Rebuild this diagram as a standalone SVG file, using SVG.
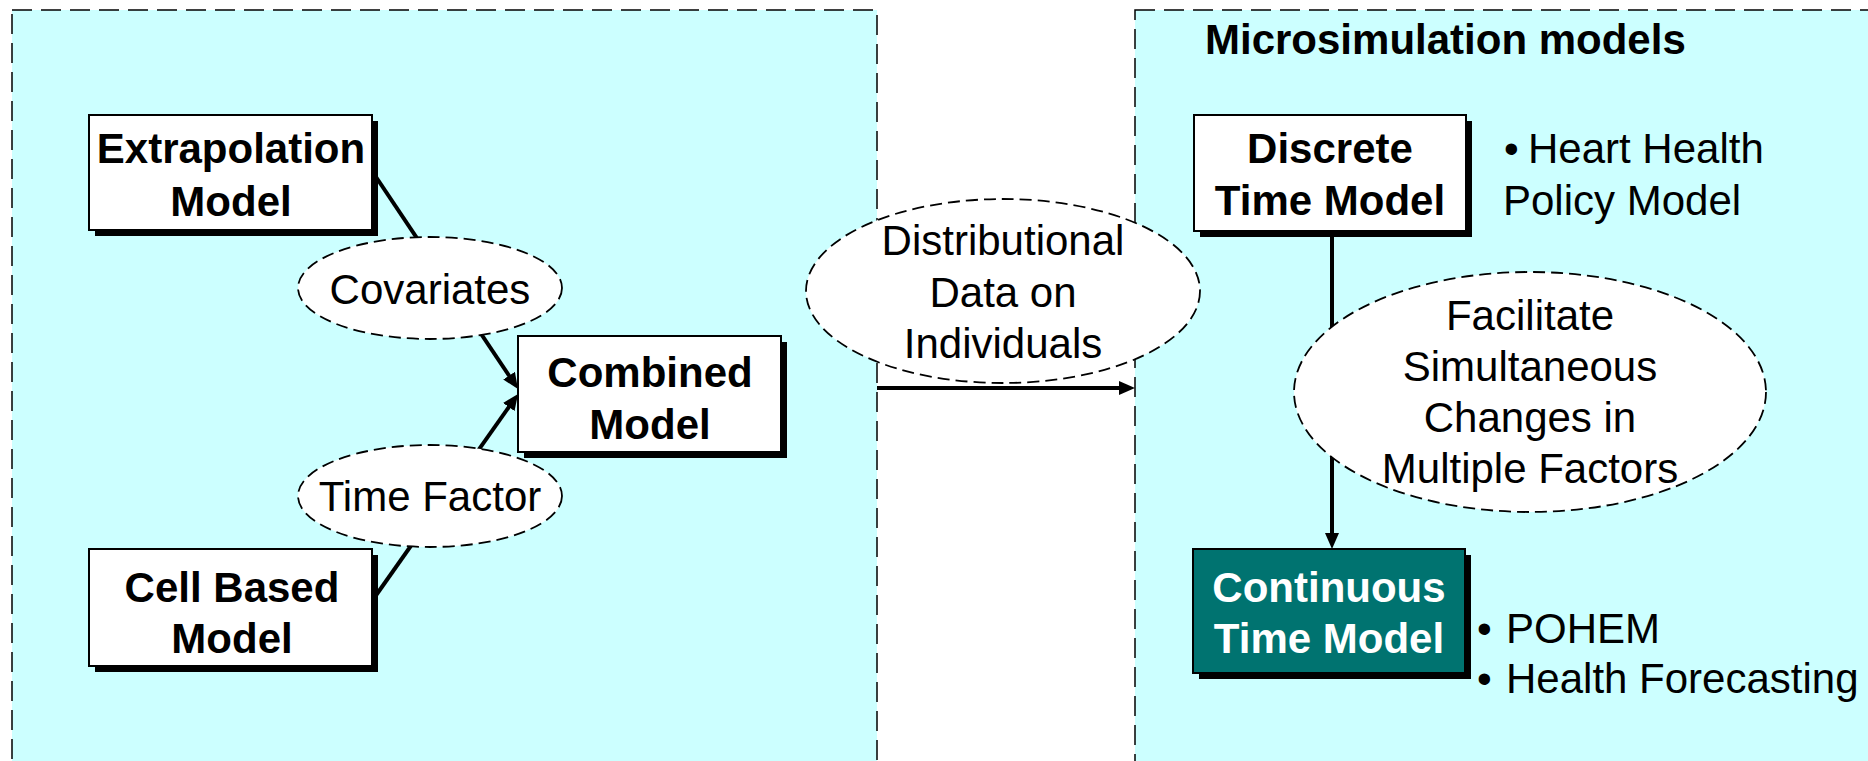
<svg xmlns="http://www.w3.org/2000/svg" width="1868" height="761" viewBox="0 0 1868 761">
  <style>
    text { font-family: "Liberation Sans", Arial, sans-serif; font-size: 42px; fill: #000; }
    .bold { font-weight: bold; }
    .mid { text-anchor: middle; }
    .panel { fill: #CCFFFF; stroke: #000; stroke-width: 1.5; stroke-dasharray: 20 9; }
    .box { fill: #fff; stroke: #000; stroke-width: 2; }
    .box-dark { fill: #007370; stroke: #000; stroke-width: 2; }
    .shadow { fill: #000; }
    .bubble { fill: #fff; stroke: #000; stroke-width: 1.8; stroke-dasharray: 12 6; }
    .link { fill: none; stroke: #000; stroke-width: 4; }
    .light { fill: #fff; }
  </style>
  <defs>
    <marker id="head" markerUnits="userSpaceOnUse" markerWidth="16" markerHeight="14" refX="4" refY="7" orient="auto">
      <path d="M0,0 L16,7 L0,14 z" fill="#000"/>
    </marker>
  </defs>

  <rect x="0" y="0" width="1868" height="761" fill="#fff"/>

  <!-- panels -->
  <g id="aggregate-panel">
    <rect class="panel" x="12" y="10" width="865" height="800"/>
  </g>
  <g id="micro-panel">
    <rect class="panel" x="1135" y="10" width="800" height="800"/>
    <text class="bold" x="1205" y="54">Microsimulation models</text>
  </g>

  <!-- connectors -->
  <g id="connectors">
    <line class="link" x1="372" y1="171" x2="511.3" y2="379" marker-end="url(#head)"/>
    <line class="link" x1="372" y1="601" x2="511.1" y2="403.8" marker-end="url(#head)"/>
    <line class="link" x1="877" y1="388" x2="1123" y2="388" marker-end="url(#head)"/>
    <line class="link" x1="1332" y1="231" x2="1332" y2="537" marker-end="url(#head)"/>
  </g>

  <!-- model boxes -->
  <g id="extrapolation">
    <rect class="shadow" x="95" y="121" width="283" height="115"/>
    <rect class="box" x="89" y="115" width="283" height="115"/>
    <text class="bold mid" x="231" y="163">Extrapolation</text>
    <text class="bold mid" x="231" y="216">Model</text>
  </g>
  <g id="combined">
    <rect class="shadow" x="524" y="342" width="263" height="116"/>
    <rect class="box" x="518" y="336" width="263" height="116"/>
    <text class="bold mid" x="650" y="387">Combined</text>
    <text class="bold mid" x="650" y="439">Model</text>
  </g>
  <g id="cell-based">
    <rect class="shadow" x="95" y="555" width="283" height="117"/>
    <rect class="box" x="89" y="549" width="283" height="117"/>
    <text class="bold mid" x="232" y="602">Cell Based</text>
    <text class="bold mid" x="232" y="653">Model</text>
  </g>
  <g id="discrete">
    <rect class="shadow" x="1200" y="121" width="272" height="116"/>
    <rect class="box" x="1194" y="115" width="272" height="116"/>
    <text class="bold mid" x="1330" y="163">Discrete</text>
    <text class="bold mid" x="1330" y="215">Time Model</text>
    <text x="1504" y="163">•</text>
    <text x="1528" y="163">Heart Health</text>
    <text x="1503" y="215">Policy Model</text>
  </g>
  <g id="continuous">
    <rect class="shadow" x="1199" y="555" width="272" height="124"/>
    <rect class="box-dark" x="1193" y="549" width="272" height="124"/>
    <text class="bold mid light" x="1329" y="602">Continuous</text>
    <text class="bold mid light" x="1329" y="653">Time Model</text>
    <text x="1477" y="643">•</text>
    <text x="1506" y="643">POHEM</text>
    <text x="1477" y="693">•</text>
    <text x="1506" y="693">Health Forecasting</text>
  </g>

  <!-- labels on the links -->
  <g id="covariates">
    <ellipse class="bubble" cx="430" cy="288" rx="132" ry="51"/>
    <text class="mid" x="430" y="304">Covariates</text>
  </g>
  <g id="time-factor">
    <ellipse class="bubble" cx="430" cy="496" rx="132" ry="51"/>
    <text class="mid" x="430" y="511">Time Factor</text>
  </g>
  <g id="distributional-data">
    <ellipse class="bubble" cx="1003" cy="291" rx="197" ry="92"/>
    <text class="mid" x="1003" y="255">Distributional</text>
    <text class="mid" x="1003" y="307">Data on</text>
    <text class="mid" x="1003" y="358">Individuals</text>
  </g>
  <g id="simultaneous-changes">
    <ellipse class="bubble" cx="1530" cy="392" rx="236" ry="120"/>
    <text class="mid" x="1530" y="330">Facilitate</text>
    <text class="mid" x="1530" y="381">Simultaneous</text>
    <text class="mid" x="1530" y="432">Changes in</text>
    <text class="mid" x="1530" y="483">Multiple Factors</text>
  </g>
</svg>
